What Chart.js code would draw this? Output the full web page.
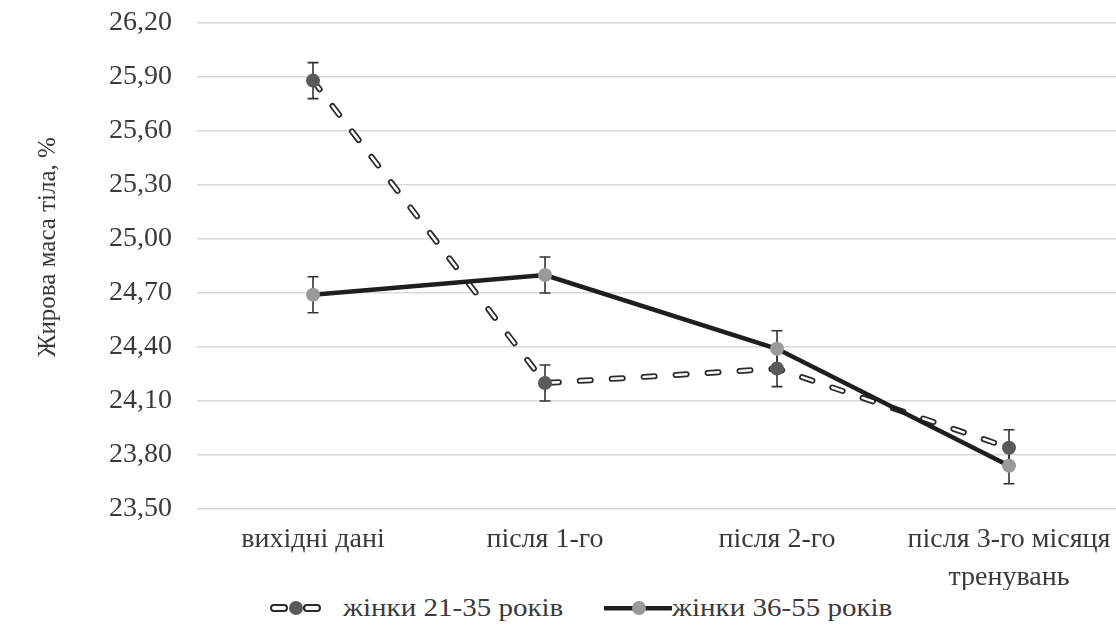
<!DOCTYPE html>
<html>
<head>
<meta charset="utf-8">
<script src="https://cdn.jsdelivr.net/npm/chart.js@4/dist/chart.umd.min.js"></script>
<style>
  html, body { margin: 0; padding: 0; background: #fff; overflow: hidden; width: 1116px; height: 626px; }
  #wrap { position: absolute; left: 0; top: 0; width: 1132px; height: 590px; }
  #legend { position: absolute; left: 0; top: 590px; width: 1116px; height: 36px;
    font-family: "Liberation Serif", serif; font-size: 25px; color: #3a3a3a; }
  .item { position: absolute; top: 0; height: 36px; line-height: 36px; white-space: nowrap; }
  .item svg { position: absolute; top: 9px; }
  .item span { position: absolute; top: 0; transform: scaleX(1.16); transform-origin: left center; }
</style>
</head>
<body>
<div id="wrap"><canvas id="fat-mass"></canvas></div>
<div id="legend">
  <div class="item" style="left:268px">
    <svg width="60" height="18" viewBox="0 0 60 18">
      <rect x="3" y="6" width="16" height="6" rx="3" fill="#fff" stroke="#2a2a2a" stroke-width="2"/>
      <rect x="36" y="6" width="16" height="6" rx="3" fill="#fff" stroke="#2a2a2a" stroke-width="2"/>
      <circle cx="28" cy="9" r="7" fill="#5a5a5a"/>
    </svg>
    <span style="left:75px">жінки 21-35 років</span>
  </div>
  <div class="item" style="left:604px">
    <svg width="70" height="18" viewBox="0 0 70 18">
      <rect x="0" y="7" width="68" height="4.5" fill="#1e1e1e"/>
      <circle cx="35" cy="9" r="7" fill="#9a9a9a"/>
    </svg>
    <span style="left:68px">жінки 36-55 років</span>
  </div>
</div>
<script>
//categories - months of training
const labelsFat = ['вихідні дані', 'після 1-го', 'після 2-го', ['після 3-го місяця', 'тренувань']];

//body fat %, women 21-35 - dashed line
const women2135 = [25.88, 24.20, 24.28, 23.84];
const err2135 = [0.10, 0.10, 0.10, 0.10];

//body fat %, women 36-55 - solid line
const women3655 = [24.69, 24.80, 24.39, 23.74];
const err3655 = [0.10, 0.10, 0.10, 0.10];

const serif = '"Liberation Serif", "Times New Roman", serif';
const textColor = '#3a3a3a';

//error bars drawn under the points, axis title drawn by hand
const errorBars = {
    id: 'errorBars',
    beforeDatasetsDraw(chart) {
        const ctx = chart.ctx;
        const xs = chart.scales.x;
        const ys = chart.scales.y;
        const sets = [[women2135, err2135], [women3655, err3655]];
        ctx.save();
        ctx.strokeStyle = '#333';
        ctx.lineWidth = 1.6;
        sets.forEach(([vals, errs]) => {
            vals.forEach((v, i) => {
                const x = xs.getPixelForValue(i);
                const y1 = ys.getPixelForValue(v + errs[i]);
                const y2 = ys.getPixelForValue(v - errs[i]);
                ctx.beginPath();
                ctx.moveTo(x, y1); ctx.lineTo(x, y2);
                ctx.moveTo(x - 5.5, y1); ctx.lineTo(x + 5.5, y1);
                ctx.moveTo(x - 5.5, y2); ctx.lineTo(x + 5.5, y2);
                ctx.stroke();
            });
        });
        ctx.restore();
    },
    afterDraw(chart) {
        const ctx = chart.ctx;
        ctx.save();
        ctx.translate(48, 247);
        ctx.rotate(-Math.PI / 2);
        ctx.font = '25px ' + serif;
        ctx.fillStyle = textColor;
        ctx.textAlign = 'center';
        ctx.textBaseline = 'middle';
        ctx.fillText('Жирова маса тіла, %', 0, 0);
        ctx.restore();
    }
};

const dataFat = {
    labels: labelsFat,
    datasets: [
        {
            label: 'жінки 36-55 років',
            data: women3655,
            borderColor: '#1e1e1e',
            borderWidth: 4.5,
            pointRadius: 7,
            pointHoverRadius: 7,
            pointBorderWidth: 0,
            pointBackgroundColor: '#9a9a9a',
            tension: 0,
            order: 0
        },
        {
            label: 'жінки 21-35 років',
            data: women2135,
            borderColor: '#ffffff',
            borderWidth: 2.5,
            borderDash: [11, 21],
            borderCapStyle: 'round',
            pointRadius: 7,
            pointHoverRadius: 7,
            pointBorderWidth: 0,
            pointBackgroundColor: '#5a5a5a',
            tension: 0,
            order: 1
        },
        {
            label: 'outline',
            data: women2135,
            borderColor: '#2a2a2a',
            borderWidth: 6,
            borderDash: [11, 21],
            borderCapStyle: 'round',
            pointRadius: 0,
            tension: 0,
            order: 2
        }
    ]
};

const configFat = {
    type: 'line',
    data: dataFat,
    plugins: [errorBars],
    options: {
        responsive: true,
        maintainAspectRatio: false,
        animation: false,
        layout: { padding: 0 },
        plugins: {
            legend: { display: false },
            tooltip: { enabled: false }
        },
        scales: {
            x: {
                offset: true,
                grid: { display: false, drawTicks: false },
                border: { display: false },
                ticks: {
                    color: textColor,
                    padding: 12,
                    maxRotation: 0,
                    autoSkip: false,
                    font: { family: serif, size: 28, lineHeight: 1.35 }
                },
                afterFit(scale) { scale.height = 81; }
            },
            y: {
                min: 23.5,
                max: 26.2,
                grid: { color: '#d9d9d9', lineWidth: 1.5, drawTicks: false },
                border: { display: false },
                ticks: {
                    stepSize: 0.3,
                    color: textColor,
                    padding: 25,
                    font: { family: serif, size: 28 },
                    callback: (v) => v.toFixed(2).replace('.', ',')
                },
                afterFit(scale) {
                    scale.width = 197;
                    scale.paddingTop = 23;
                    scale.paddingBottom = 20;
                }
            }
        }
    }
};

const ChartFat = new Chart(
    document.getElementById('fat-mass'),
    configFat
);
</script>
</body>
</html>
